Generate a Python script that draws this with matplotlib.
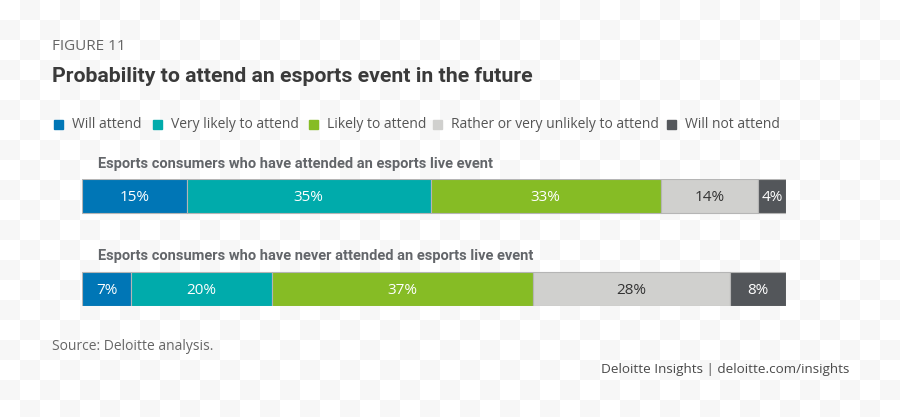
import matplotlib.pyplot as plt
import numpy as np

# data
groups = ['Esports consumers who have attended an esports live event',
          'Esports consumers who have never attended an esports live event']
categories = ['Will attend', 'Very likely to attend', 'Likely to attend',
              'Rather or very unlikely to attend', 'Will not attend']
attended = [15, 35, 33, 14, 4]
never_attended = [7, 20, 37, 28, 8]

colors = ['#0076b6', '#00abab', '#86bc25', '#d0d0ce', '#53565a']
text_colors = ['white', 'white', 'white', '#333333', 'white']

narrow = ['Roboto', 'DejaVu Sans']
plt.rcParams['font.family'] = ['Open Sans', 'DejaVu Sans']

W, H = 900, 417
fig = plt.figure(figsize=(W / 100, H / 100), dpi=100)


def fx(px):
    return px / W


def fy(py):
    return 1 - py / H


# checkerboard background like the source image
bg = fig.add_axes([0, 0, 1, 1])
nr, nc = H // 20 + 1, W // 20 + 1
board = (np.add.outer(np.arange(nr), np.arange(nc)) % 2).astype(float)
bg.imshow(board, cmap='Greys', vmin=0, vmax=17, extent=(0, nc * 20, nr * 20, 0),
          interpolation='nearest', aspect='auto')
bg.set_xlim(0, W)
bg.set_ylim(H, 0)
bg.axis('off')

# titles
fig.text(fx(52), fy(46), 'FIGURE 11', fontsize=11, color='#666666', va='center')
fig.text(fx(52), fy(77), 'Probability to attend an esports event in the future', fontsize=15.3,
         fontweight='bold', color='#3a3a3a', va='center', family=narrow)

# legend
sq_x = [54, 153, 309, 433, 667]
for x, c, lab in zip(sq_x, colors, categories):
    fig.patches.append(plt.Rectangle((fx(x), fy(129)), fx(9), 9 / H, color=c,
                                     transform=fig.transFigure, figure=fig))
    fig.text(fx(x + 18), fy(125), lab, fontsize=10, color='#555555', va='center')

# bars
ax = fig.add_axes([fx(82), fy(306), fx(704), (306 - 179) / H])
h = 34 / 93
rows = [attended, never_attended]
for i, vals in enumerate(rows):
    total = sum(vals)
    left = 0
    for v, c, tc in zip(vals, colors, text_colors):
        w = v / total
        ax.barh(i, w, left=left, height=h, color=c, edgecolor='#b5b5b5', linewidth=0.8)
        ax.text(left + w / 2, i + 0.02, f'{v}%', ha='center', va='center', fontsize=11, color=tc)
        left += w
ax.set_xlim(0, 1)
ax.set_ylim(1 + h / 2, -h / 2)
ax.axis('off')

fig.text(fx(98), fy(164), groups[0], fontsize=10.5, fontweight='bold', color='#63666a',
         va='center', family=narrow)
fig.text(fx(98), fy(256), groups[1], fontsize=10.5, fontweight='bold', color='#63666a',
         va='center', family=narrow)

# footer
fig.text(fx(52), fy(346), 'Source: Deloitte analysis.', fontsize=10, color='#666666',
         va='center')
fig.text(fx(849), fy(369), 'Deloitte Insights | deloitte.com/insights', fontsize=9.7,
         color='#4a4a4a', va='center', ha='right')

fig.savefig('out.png', dpi=100)
